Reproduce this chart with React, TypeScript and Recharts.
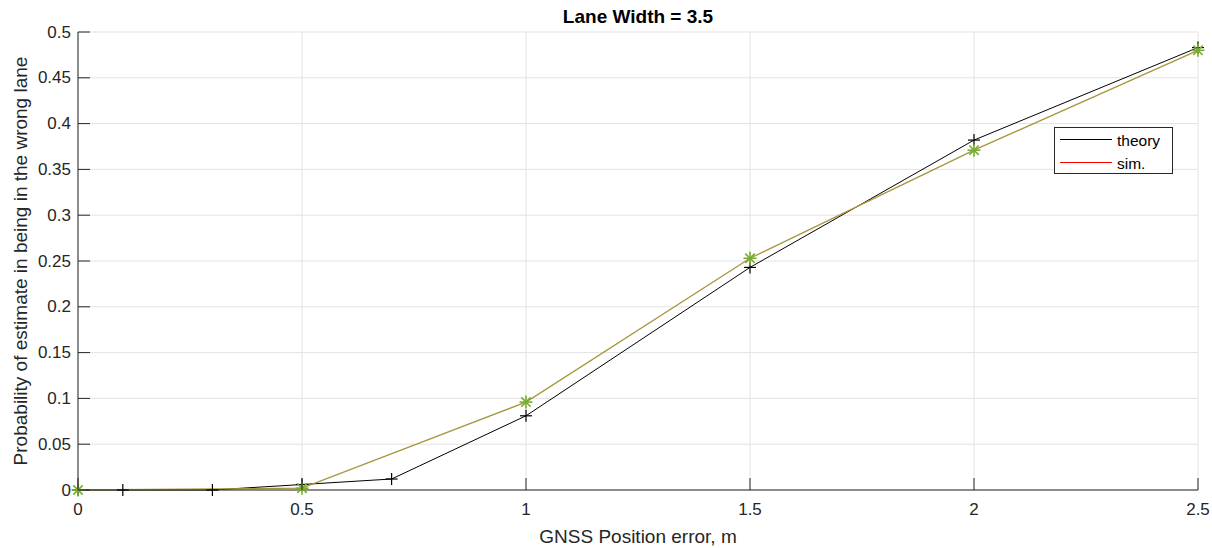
import React from "react";
import { LineChart, Line, XAxis, YAxis, CartesianGrid } from "recharts";

const xTicks = [0, 0.5, 1, 1.5, 2, 2.5];
const yTicks = [0, 0.05, 0.1, 0.15, 0.2, 0.25, 0.3, 0.35, 0.4, 0.45, 0.5];

const theoryX = [0, 0.1, 0.3, 0.5, 0.7, 1, 1.5, 2, 2.5];
const theoryY = [0, 0, 0, 0.006, 0.012, 0.081, 0.243, 0.382, 0.483];

const simX = [0, 0.5, 1, 1.5, 2, 2.5];
const simY = [0, 0.002, 0.096, 0.253, 0.371, 0.48];

const theoryData = theoryX.map((x, i) => ({ x, y: theoryY[i] }));
const simData = simX.map((x, i) => ({ x, y: simY[i] }));

const AXIS = "#262626";
const FONT = "'Liberation Sans', Arial, sans-serif";
const TICK_LEN = 12;

const fmt = (v: number) => String(Number(v.toFixed(2)));

const LeftTick = (props: any) => {
  const { x, y, payload } = props;
  return (
    <g>
      <line x1={x} x2={x + TICK_LEN} y1={y} y2={y} stroke={AXIS} />
      <text x={x - 7} y={y} textAnchor="end" dominantBaseline="central" fontSize={17} fill={AXIS} fontFamily={FONT}>
        {fmt(payload.value)}
      </text>
    </g>
  );
};

const RightTick = (props: any) => {
  const { x, y } = props;
  return <line x1={x - TICK_LEN} x2={x} y1={y} y2={y} stroke={AXIS} />;
};

const BottomTick = (props: any) => {
  const { x, y, payload } = props;
  return (
    <g>
      <line x1={x} x2={x} y1={y} y2={y - TICK_LEN} stroke={AXIS} />
      <text x={x} y={y + 19} textAnchor="middle" dominantBaseline="central" fontSize={17} fill={AXIS} fontFamily={FONT}>
        {fmt(payload.value)}
      </text>
    </g>
  );
};

const TopTick = (props: any) => {
  const { x, y } = props;
  return <line x1={x} x2={x} y1={y} y2={y + TICK_LEN} stroke={AXIS} />;
};

const PlusDot = (props: any) => {
  const { cx, cy, index } = props;
  const r = 6;
  return (
    <g key={`p-${index}`}>
      <line x1={cx - r} x2={cx + r} y1={cy} y2={cy} stroke="#000" strokeWidth={1.2} />
      <line x1={cx} x2={cx} y1={cy - r} y2={cy + r} stroke="#000" strokeWidth={1.2} />
    </g>
  );
};

const StarDot = (props: any) => {
  const { cx, cy, index } = props;
  const r = 6.5;
  const d = r * 0.72;
  return (
    <g key={`s-${index}`} stroke="#77ac30" strokeWidth={1.6}>
      <line x1={cx - r} x2={cx + r} y1={cy} y2={cy} />
      <line x1={cx} x2={cx} y1={cy - r} y2={cy + r} />
      <line x1={cx - d} x2={cx + d} y1={cy - d} y2={cy + d} />
      <line x1={cx - d} x2={cx + d} y1={cy + d} y2={cy - d} />
    </g>
  );
};

export default function App() {
  return (
    <div style={{ position: "absolute", left: 0, top: 0, width: 1212, height: 548, background: "#fff", fontFamily: FONT }}>
      <LineChart width={1212} height={548} margin={{ top: 32, right: 14, bottom: 0, left: 8 }}>
        <CartesianGrid xAxisId="b" yAxisId="l" stroke="#e3e3e3" />
        <XAxis
          xAxisId="b"
          type="number"
          dataKey="x"
          domain={[0, 2.5]}
          ticks={xTicks}
          height={58}
          tickSize={0}
          tickMargin={0}
          tick={<BottomTick />}
          axisLine={{ stroke: AXIS }}
        />
        <XAxis
          xAxisId="t"
          orientation="top"
          type="number"
          dataKey="x"
          domain={[0, 2.5]}
          ticks={xTicks}
          height={0}
          tickSize={0}
          tickMargin={0}
          tick={<TopTick />}
          axisLine={{ stroke: AXIS }}
        />
        <YAxis
          yAxisId="l"
          type="number"
          domain={[0, 0.5]}
          ticks={yTicks}
          width={70}
          tickSize={0}
          tickMargin={0}
          tick={<LeftTick />}
          axisLine={{ stroke: AXIS }}
        />
        <YAxis
          yAxisId="r"
          orientation="right"
          type="number"
          domain={[0, 0.5]}
          ticks={yTicks}
          width={0}
          tickSize={0}
          tickMargin={0}
          tick={<RightTick />}
          axisLine={{ stroke: AXIS }}
        />
        <Line
          xAxisId="b"
          yAxisId="l"
          data={theoryData}
          dataKey="y"
          type="linear"
          stroke="#000"
          strokeWidth={1}
          dot={PlusDot}
          activeDot={false}
          isAnimationActive={false}
        />
        <Line
          xAxisId="b"
          yAxisId="l"
          data={simData}
          dataKey="y"
          type="linear"
          stroke="#a6963a"
          strokeWidth={1.3}
          dot={StarDot}
          activeDot={false}
          isAnimationActive={false}
        />
      </LineChart>
      <svg width={1212} height={548} style={{ position: "absolute", left: 0, top: 0, pointerEvents: "none" }}>
        <text x={638} y={16} textAnchor="middle" dominantBaseline="central" fontSize={19} fontWeight="bold" fill="#000" fontFamily={FONT}>
          Lane Width = 3.5
        </text>
        <text x={638} y={536} textAnchor="middle" dominantBaseline="central" fontSize={19} fill={AXIS} fontFamily={FONT}>
          GNSS Position error, m
        </text>
        <text
          x={20}
          y={261}
          transform="rotate(-90 20 261)"
          textAnchor="middle"
          dominantBaseline="central"
          fontSize={19}
          fill={AXIS}
          fontFamily={FONT}
        >
          Probability of estimate in being in the wrong lane
        </text>
        <rect x={1054.5} y={127.5} width={118} height={46} fill="#fff" stroke={AXIS} />
        <line x1={1060} x2={1112} y1={139.5} y2={139.5} stroke="#000" />
        <text x={1117} y={140} dominantBaseline="central" fontSize={15.5} fill="#000" fontFamily={FONT}>
          theory
        </text>
        <line x1={1060} x2={1112} y1={162.5} y2={162.5} stroke="#ff0000" />
        <text x={1117} y={163} dominantBaseline="central" fontSize={15.5} fill="#000" fontFamily={FONT}>
          sim.
        </text>
      </svg>
    </div>
  );
}
